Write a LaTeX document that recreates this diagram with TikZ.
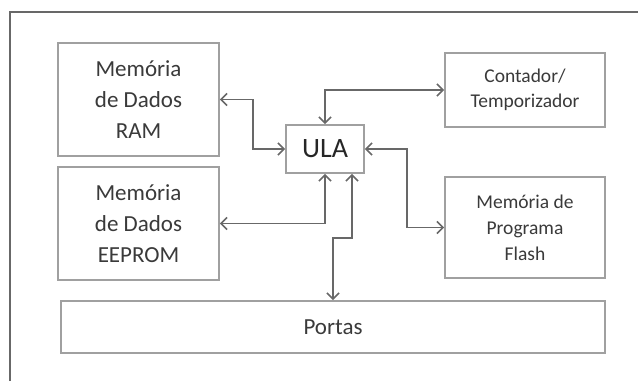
\documentclass[tikz,border=0pt]{standalone}
\usepackage{fontspec}
\setmainfont{Carlito}
\usepackage{xcolor}
\usetikzlibrary{arrows.meta}

\definecolor{boxgray}{HTML}{A0A0A0}
\definecolor{linegray}{HTML}{686868}
\definecolor{textgray}{HTML}{3A3A3A}

\tikzset{
    bloco/.style={draw=boxgray,line width=1.8pt,rectangle,align=center,text=textgray,fill=white},
    link/.style={draw=linegray,line width=1.6pt,{Straight Barb[length=6pt,width=12pt]}-{Straight Barb[length=6pt,width=12pt]}},
}

\begin{document}
\begin{tikzpicture}[x=1pt,y=-1pt]
        \useasboundingbox (0,0) rectangle (638,381);
        % moldura
        \draw[draw=linegray,line width=1.6pt] (10,381) -- (10,12) -- (638,12);

        % blocos
        \node[bloco,minimum width=161pt,minimum height=113pt,font=\fontsize{23}{31}\selectfont] (ram) at (138.5,99.5) {Memória\\de Dados\\RAM};
        \node[bloco,minimum width=161pt,minimum height=113pt,font=\fontsize{23}{31}\selectfont] (eeprom) at (138.5,223.5) {Memória\\de Dados\\EEPROM};
        \node[bloco,minimum width=78pt,minimum height=48pt,font=\fontsize{28}{32}\selectfont,text=black!85] (ula) at (325,149) {ULA};
        \node[bloco,minimum width=160pt,minimum height=74pt,font=\fontsize{19.5}{25}\selectfont] (cont) at (525,90) {Contador/\\Temporizador};
        \node[bloco,minimum width=160pt,minimum height=101pt,font=\fontsize{19.5}{26}\selectfont] (flash) at (525,227.5) {Memória de\\Programa\\Flash};
        \node[bloco,minimum width=544pt,minimum height=52pt,font=\fontsize{23}{26}\selectfont] (portas) at (333,327) {Portas};

        % ligacoes
        \draw[link] (ram.east) -- ++(33,0) |- (ula.west);
        \draw[link] (ula.north) |- (cont.west);
        \draw[link] (ula.east) -- ++(42,0) |- (flash.west);
        \draw[link] (eeprom.east) -| (ula.south);
        \draw[link] ([xshift=27pt]ula.south) -- ++(0,64) -| (portas.north);
    \end{tikzpicture}
\end{document}
